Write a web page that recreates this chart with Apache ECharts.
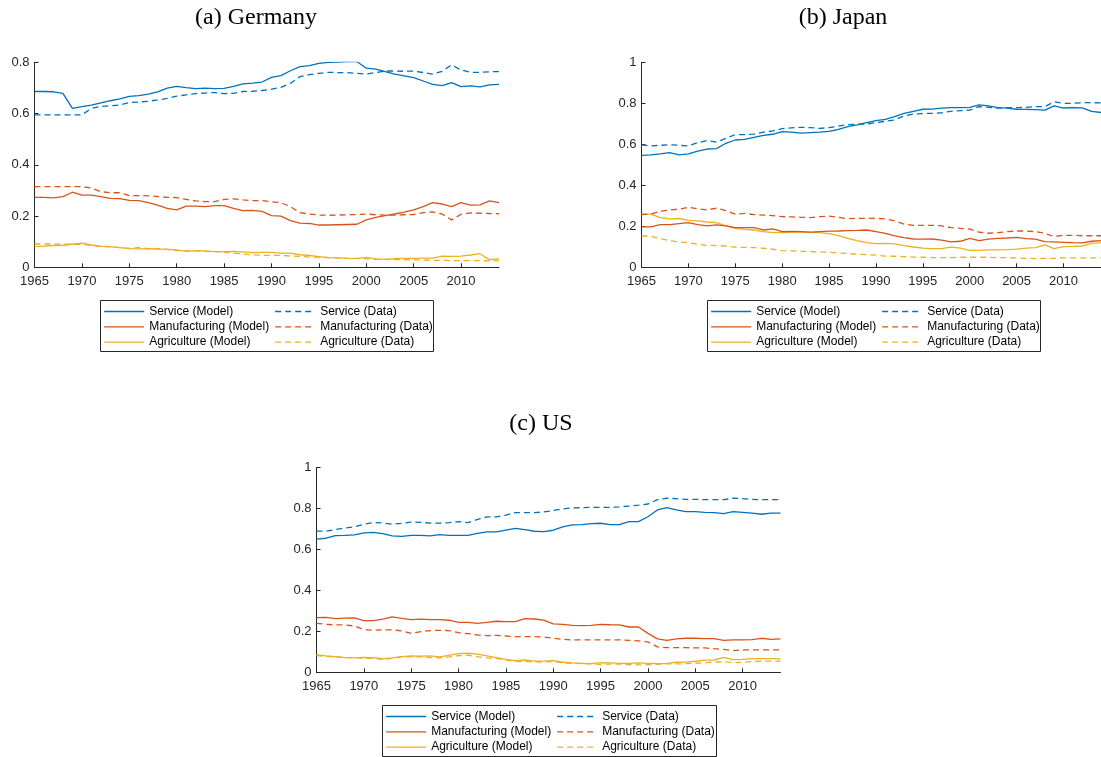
<!DOCTYPE html>
<html>
<head>
<meta charset="utf-8">
<title>Sectoral employment shares: model vs data</title>
<script src="https://cdn.jsdelivr.net/npm/echarts@6/dist/echarts.min.js"></script>
<style>
  html, body { margin: 0; padding: 0; background: #fff; overflow: hidden; }
  #chart { width: 1101px; height: 757px; }
</style>
</head>
<body>
<div id="chart"></div>
<script>
// ---- data -------------------------------------------------------------
const YEAR_FIRST = 1965;
const YEAR_LAST = 2014;
const X_TICKS = [1965, 1970, 1975, 1980, 1985, 1990, 1995, 2000, 2005, 2010];
const SECTORS = ['Service', 'Manufacturing', 'Agriculture'];

// Germany
const deServiceModel = [
  0.686, 0.686, 0.685, 0.679, 0.620, 0.627, 0.633, 0.642, 0.650, 0.657,
  0.667, 0.670, 0.676, 0.685, 0.699, 0.706, 0.701, 0.697, 0.699, 0.697,
  0.698, 0.706, 0.716, 0.719, 0.723, 0.741, 0.748, 0.767, 0.783, 0.787,
  0.796, 0.800, 0.801, 0.803, 0.803, 0.777, 0.773, 0.764, 0.754, 0.747,
  0.740, 0.727, 0.714, 0.709, 0.721, 0.705, 0.708, 0.704, 0.712, 0.714];
const deServiceData = [
  0.595, 0.595, 0.595, 0.595, 0.595, 0.595, 0.620, 0.628, 0.630, 0.633,
  0.643, 0.645, 0.648, 0.653, 0.659, 0.668, 0.673, 0.678, 0.680, 0.682,
  0.678, 0.679, 0.686, 0.687, 0.690, 0.695, 0.702, 0.718, 0.744, 0.752,
  0.757, 0.761, 0.760, 0.760, 0.757, 0.754, 0.760, 0.766, 0.766, 0.765,
  0.766, 0.760, 0.754, 0.765, 0.790, 0.770, 0.761, 0.761, 0.763, 0.764];
const deManufModel = [
  0.273, 0.273, 0.271, 0.276, 0.293, 0.282, 0.282, 0.276, 0.269, 0.268,
  0.261, 0.260, 0.252, 0.243, 0.230, 0.224, 0.239, 0.239, 0.237, 0.241,
  0.241, 0.230, 0.221, 0.222, 0.218, 0.202, 0.200, 0.182, 0.172, 0.171,
  0.165, 0.165, 0.166, 0.167, 0.168, 0.185, 0.195, 0.202, 0.208, 0.215,
  0.224, 0.237, 0.252, 0.247, 0.237, 0.252, 0.243, 0.244, 0.259, 0.252];
const deManufData = [
  0.315, 0.315, 0.315, 0.315, 0.315, 0.315, 0.309, 0.295, 0.291, 0.291,
  0.280, 0.280, 0.279, 0.276, 0.273, 0.272, 0.265, 0.259, 0.256, 0.256,
  0.265, 0.267, 0.263, 0.260, 0.260, 0.256, 0.252, 0.237, 0.213, 0.208,
  0.204, 0.203, 0.204, 0.205, 0.206, 0.208, 0.205, 0.204, 0.204, 0.205,
  0.206, 0.213, 0.216, 0.208, 0.185, 0.207, 0.212, 0.211, 0.210, 0.209];
const deAgriModel = [
  0.081, 0.083, 0.085, 0.086, 0.090, 0.094, 0.087, 0.083, 0.081, 0.077,
  0.073, 0.072, 0.073, 0.072, 0.070, 0.068, 0.062, 0.065, 0.064, 0.061,
  0.061, 0.062, 0.060, 0.057, 0.058, 0.058, 0.055, 0.055, 0.049, 0.046,
  0.042, 0.038, 0.037, 0.035, 0.034, 0.039, 0.033, 0.031, 0.034, 0.035,
  0.035, 0.036, 0.036, 0.044, 0.043, 0.044, 0.048, 0.053, 0.029, 0.034];
const deAgriData = [
  0.091, 0.091, 0.091, 0.090, 0.090, 0.090, 0.085, 0.081, 0.080, 0.077,
  0.074, 0.077, 0.073, 0.072, 0.070, 0.065, 0.064, 0.065, 0.062, 0.061,
  0.059, 0.055, 0.052, 0.049, 0.047, 0.046, 0.047, 0.044, 0.043, 0.040,
  0.039, 0.038, 0.037, 0.035, 0.035, 0.033, 0.031, 0.031, 0.030, 0.030,
  0.029, 0.029, 0.027, 0.027, 0.026, 0.026, 0.026, 0.026, 0.025, 0.026];

// Japan
const jpServiceModel = [
  0.546, 0.548, 0.553, 0.559, 0.548, 0.553, 0.567, 0.577, 0.579, 0.605,
  0.621, 0.624, 0.634, 0.644, 0.649, 0.662, 0.659, 0.655, 0.657, 0.659,
  0.663, 0.673, 0.686, 0.695, 0.706, 0.715, 0.722, 0.735, 0.751, 0.761,
  0.771, 0.772, 0.776, 0.779, 0.779, 0.780, 0.792, 0.787, 0.779, 0.776,
  0.771, 0.770, 0.769, 0.767, 0.787, 0.777, 0.779, 0.778, 0.761, 0.755];
const jpServiceData = [
  0.597, 0.592, 0.595, 0.598, 0.595, 0.592, 0.608, 0.618, 0.611, 0.629,
  0.647, 0.647, 0.650, 0.659, 0.665, 0.676, 0.680, 0.683, 0.681, 0.678,
  0.681, 0.689, 0.696, 0.698, 0.699, 0.706, 0.712, 0.719, 0.738, 0.748,
  0.750, 0.751, 0.754, 0.761, 0.764, 0.767, 0.784, 0.780, 0.776, 0.779,
  0.779, 0.780, 0.784, 0.784, 0.807, 0.800, 0.800, 0.803, 0.803, 0.802];
const jpManufModel = [
  0.197, 0.197, 0.208, 0.208, 0.213, 0.218, 0.208, 0.202, 0.207, 0.202,
  0.194, 0.194, 0.194, 0.182, 0.187, 0.174, 0.175, 0.174, 0.172, 0.174,
  0.176, 0.177, 0.179, 0.180, 0.182, 0.174, 0.166, 0.153, 0.145, 0.138,
  0.137, 0.138, 0.133, 0.124, 0.127, 0.141, 0.130, 0.137, 0.141, 0.143,
  0.146, 0.140, 0.137, 0.125, 0.124, 0.122, 0.120, 0.119, 0.127, 0.130];
const jpManufData = [
  0.257, 0.260, 0.273, 0.280, 0.283, 0.293, 0.285, 0.280, 0.289, 0.276,
  0.259, 0.263, 0.257, 0.255, 0.252, 0.247, 0.246, 0.244, 0.242, 0.247,
  0.250, 0.244, 0.237, 0.239, 0.239, 0.239, 0.236, 0.226, 0.211, 0.205,
  0.205, 0.205, 0.202, 0.194, 0.190, 0.187, 0.171, 0.166, 0.169, 0.174,
  0.177, 0.177, 0.174, 0.166, 0.150, 0.156, 0.156, 0.154, 0.154, 0.154];
const jpAgriModel = [
  0.259, 0.259, 0.242, 0.236, 0.238, 0.229, 0.226, 0.221, 0.218, 0.202,
  0.190, 0.185, 0.182, 0.174, 0.169, 0.169, 0.172, 0.172, 0.170, 0.169,
  0.164, 0.154, 0.141, 0.130, 0.120, 0.115, 0.117, 0.114, 0.106, 0.099,
  0.094, 0.091, 0.091, 0.098, 0.094, 0.083, 0.083, 0.085, 0.085, 0.086,
  0.089, 0.094, 0.096, 0.109, 0.091, 0.101, 0.102, 0.104, 0.117, 0.120];
const jpAgriData = [
  0.154, 0.150, 0.140, 0.130, 0.124, 0.120, 0.112, 0.107, 0.106, 0.104,
  0.098, 0.097, 0.096, 0.093, 0.088, 0.081, 0.080, 0.078, 0.077, 0.075,
  0.073, 0.070, 0.067, 0.064, 0.062, 0.059, 0.055, 0.054, 0.052, 0.050,
  0.049, 0.047, 0.047, 0.047, 0.049, 0.049, 0.049, 0.049, 0.047, 0.047,
  0.046, 0.044, 0.042, 0.044, 0.044, 0.046, 0.046, 0.046, 0.046, 0.046];

// US
const usServiceModel = [
  0.650, 0.654, 0.667, 0.668, 0.670, 0.680, 0.683, 0.676, 0.665, 0.663,
  0.668, 0.668, 0.665, 0.672, 0.668, 0.668, 0.668, 0.678, 0.685, 0.685,
  0.694, 0.702, 0.696, 0.688, 0.686, 0.693, 0.709, 0.719, 0.720, 0.725,
  0.727, 0.720, 0.720, 0.735, 0.735, 0.759, 0.792, 0.803, 0.792, 0.784,
  0.784, 0.780, 0.779, 0.774, 0.784, 0.780, 0.776, 0.771, 0.776, 0.776];
const usServiceData = [
  0.689, 0.688, 0.696, 0.704, 0.709, 0.722, 0.730, 0.729, 0.722, 0.727,
  0.733, 0.731, 0.728, 0.728, 0.730, 0.735, 0.730, 0.746, 0.758, 0.758,
  0.767, 0.779, 0.779, 0.779, 0.782, 0.789, 0.797, 0.802, 0.803, 0.805,
  0.805, 0.805, 0.807, 0.811, 0.815, 0.821, 0.842, 0.849, 0.847, 0.844,
  0.844, 0.842, 0.842, 0.842, 0.849, 0.847, 0.844, 0.842, 0.842, 0.842];
const usManufModel = [
  0.267, 0.268, 0.262, 0.264, 0.265, 0.252, 0.252, 0.259, 0.270, 0.263,
  0.257, 0.259, 0.257, 0.257, 0.254, 0.244, 0.244, 0.239, 0.244, 0.249,
  0.247, 0.247, 0.262, 0.260, 0.254, 0.236, 0.234, 0.229, 0.228, 0.229,
  0.234, 0.232, 0.231, 0.221, 0.221, 0.190, 0.163, 0.156, 0.163, 0.166,
  0.166, 0.164, 0.164, 0.156, 0.158, 0.158, 0.159, 0.166, 0.161, 0.163];
const usManufData = [
  0.239, 0.234, 0.231, 0.231, 0.226, 0.208, 0.205, 0.207, 0.207, 0.202,
  0.190, 0.198, 0.203, 0.205, 0.203, 0.193, 0.189, 0.182, 0.179, 0.180,
  0.177, 0.174, 0.174, 0.174, 0.172, 0.166, 0.161, 0.158, 0.158, 0.158,
  0.158, 0.158, 0.158, 0.156, 0.153, 0.148, 0.124, 0.120, 0.120, 0.120,
  0.119, 0.119, 0.115, 0.112, 0.106, 0.109, 0.109, 0.109, 0.109, 0.109];
const usAgriModel = [
  0.086, 0.080, 0.076, 0.072, 0.070, 0.073, 0.072, 0.067, 0.070, 0.076,
  0.080, 0.079, 0.080, 0.075, 0.083, 0.091, 0.093, 0.089, 0.080, 0.072,
  0.063, 0.057, 0.060, 0.055, 0.055, 0.057, 0.049, 0.046, 0.044, 0.042,
  0.047, 0.046, 0.044, 0.044, 0.046, 0.044, 0.042, 0.044, 0.049, 0.050,
  0.054, 0.059, 0.060, 0.073, 0.062, 0.063, 0.067, 0.067, 0.067, 0.065];
const usAgriData = [
  0.081, 0.078, 0.075, 0.072, 0.072, 0.068, 0.068, 0.063, 0.068, 0.075,
  0.075, 0.075, 0.072, 0.070, 0.075, 0.081, 0.083, 0.076, 0.070, 0.067,
  0.060, 0.054, 0.052, 0.051, 0.050, 0.052, 0.046, 0.044, 0.042, 0.041,
  0.039, 0.040, 0.040, 0.037, 0.036, 0.037, 0.039, 0.041, 0.041, 0.042,
  0.044, 0.047, 0.050, 0.052, 0.047, 0.049, 0.052, 0.054, 0.055, 0.055];

// ---- appearance -----------------------------------------------------------
const SECTOR_COLORS = ['#0072BD', '#D95319', '#EDB120'];
const DASH = [6, 4];
const AXIS_COLOR = '#262626';
const SANS = "'Liberation Sans', Arial, sans-serif";
const SERIF = "'Liberation Serif', 'DejaVu Serif', serif";

// Each panel: caption, y-range, series and where it sits on the page.
const panels = [
  {
    title: '(a) Germany', yMax: 0.8,
    model: [deServiceModel, deManufModel, deAgriModel],
    data: [deServiceData, deManufData, deAgriData],
    grid: { left: 34.5, top: 62.3, width: 464.5, height: 205 },
    titleAt: [256, 18],
    legendBox: { x: 100.5, y: 300.5, w: 333, h: 51 }
  },
  {
    title: '(b) Japan', yMax: 1,
    model: [jpServiceModel, jpManufModel, jpAgriModel],
    data: [jpServiceData, jpManufData, jpAgriData],
    grid: { left: 641.5, top: 62.3, width: 464, height: 205 },
    titleAt: [843, 18],
    legendBox: { x: 707.5, y: 300.5, w: 333, h: 51 }
  },
  {
    title: '(c) US', yMax: 1,
    model: [usServiceModel, usManufModel, usAgriModel],
    data: [usServiceData, usManufData, usAgriData],
    grid: { left: 316.5, top: 467.3, width: 464, height: 205 },
    titleAt: [541, 424],
    legendBox: { x: 382.5, y: 705.5, w: 334, h: 51 }
  }
];

function pairs(values) {
  return values.map((v, i) => [YEAR_FIRST + i, v]);
}

const option = {
  backgroundColor: '#fff',
  animation: false,
  title: [], grid: [], xAxis: [], yAxis: [], series: [], legend: [], graphic: []
};

panels.forEach((p, k) => {
  option.title.push({
    text: p.title,
    left: p.titleAt[0], top: p.titleAt[1],
    textAlign: 'center', textVerticalAlign: 'middle', padding: 0,
    textStyle: { fontFamily: SERIF, fontSize: 24, fontWeight: 'normal', color: '#000' }
  });

  option.grid.push(Object.assign({ containLabel: false }, p.grid));

  option.xAxis.push({
    type: 'value', gridIndex: k, min: YEAR_FIRST, max: YEAR_LAST,
    axisLine: { show: true, lineStyle: { color: AXIS_COLOR, width: 1 } },
    axisTick: { show: true, inside: true, length: 4, customValues: X_TICKS,
                lineStyle: { color: AXIS_COLOR, width: 1 } },
    axisLabel: { customValues: X_TICKS, margin: 8, color: AXIS_COLOR,
                 fontFamily: SANS, fontSize: 13, formatter: v => String(v) },
    splitLine: { show: false }
  });

  option.yAxis.push({
    type: 'value', gridIndex: k, min: 0, max: p.yMax, interval: 0.2,
    axisLine: { show: true, lineStyle: { color: AXIS_COLOR, width: 1 } },
    axisTick: { show: true, inside: true, length: 4, lineStyle: { color: AXIS_COLOR, width: 1 } },
    axisLabel: { margin: 5, color: AXIS_COLOR, fontFamily: SANS, fontSize: 13 },
    splitLine: { show: false }
  });

  SECTORS.forEach((s, j) => {
    option.series.push({
      name: s + ' (Model)', type: 'line', xAxisIndex: k, yAxisIndex: k,
      data: pairs(p.model[j]), showSymbol: false, symbol: 'none',
      lineStyle: { color: SECTOR_COLORS[j], width: 1.3 },
      itemStyle: { color: SECTOR_COLORS[j] }, z: 3 - j
    });
  });
  SECTORS.forEach((s, j) => {
    option.series.push({
      name: s + ' (Data)', type: 'line', xAxisIndex: k, yAxisIndex: k,
      data: pairs(p.data[j]), showSymbol: false, symbol: 'none',
      lineStyle: { color: SECTOR_COLORS[j], width: 1.3, type: DASH },
      itemStyle: { color: SECTOR_COLORS[j] }, z: 3 - j
    });
  });

  const b = p.legendBox;
  const legendCommon = {
    orient: 'vertical', top: b.y + 3.5, padding: 0,
    itemWidth: 40, itemHeight: 15, itemGap: 0.3,
    selectedMode: false,
    itemStyle: { opacity: 0 },
    textStyle: { fontFamily: SANS, fontSize: 12, color: '#000', lineHeight: 15 }
  };
  option.legend.push(Object.assign({}, legendCommon, {
    left: b.x + 3,
    data: SECTORS.map(s => s + ' (Model)'),
    lineStyle: { width: 1.3, type: 'solid' }
  }));
  option.legend.push(Object.assign({}, legendCommon, {
    left: b.x + 174,
    data: SECTORS.map(s => s + ' (Data)'),
    lineStyle: { width: 1.3, type: DASH }
  }));

  option.graphic.push({
    type: 'rect', z: -1,
    shape: { x: b.x, y: b.y, width: b.w, height: b.h },
    style: { fill: '#fff', stroke: '#262626', lineWidth: 1 }
  });
});

const chart = echarts.init(document.getElementById('chart'), null, { renderer: 'canvas' });
chart.setOption(option);
</script>
</body>
</html>
